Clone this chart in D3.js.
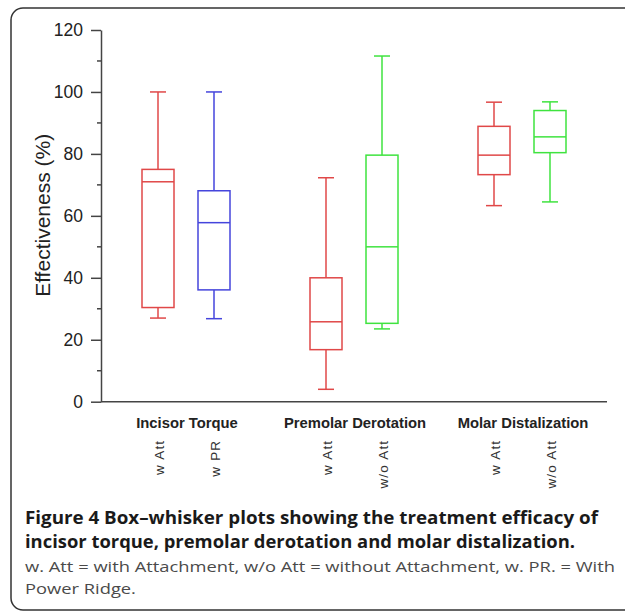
<!DOCTYPE html>
<html>
<head>
<meta charset="utf-8">
<title>Box-whisker plots</title>
<script type="text/javascript" src="https://cdn.jsdelivr.net/npm/d3@7"></script>
<style>
	body {
		margin: 0;
		background: white;
	}
	svg text.tick_label, svg .axis text {
		font-family: "Liberation Sans", Arial, sans-serif;
		font-size: 17.5px;
		fill: #222;
	}
	.axis path, .axis line {
		stroke: #444;
		stroke-width: 1.5px;
	}
	.cat_label {
		font-family: "Liberation Sans", Arial, sans-serif;
		font-weight: bold;
		font-size: 14.8px;
		fill: #222;
	}
	.sub_label {
		font-family: "Liberation Sans", Arial, sans-serif;
		font-size: 13.5px;
		letter-spacing: 1.2px;
		fill: #333;
	}
	.y_title {
		font-family: "Liberation Sans", Arial, sans-serif;
		font-size: 21px;
		fill: #222;
	}
	.caption {
		font-family: "Open Sans", "Noto Sans", sans-serif;
	}
	.box line, .box rect {
		stroke-width: 1.5px;
		fill: none;
	}
</style>
</head>
<body>

<svg id="chart"></svg>

<script type="text/javascript">

	// data
	var categories = [ "Incisor Torque", "Premolar Derotation", "Molar Distalization" ];
	var boxCat = [ "Incisor Torque", "Incisor Torque", "Premolar Derotation", "Premolar Derotation", "Molar Distalization", "Molar Distalization" ];
	var boxLabel = [ "w Att", "w PR", "w Att", "w/o Att", "w Att", "w/o Att" ];
	var boxSlot = [ 0, 1, 0, 1, 0, 1 ];
	var whiskerLow = [ 27.0, 26.8, 4.0, 23.5, 63.3, 64.5 ];
	var q1 = [ 30.4, 36.1, 16.8, 25.3, 73.3, 80.4 ];
	var median = [ 71.0, 57.8, 25.8, 50.0, 79.6, 85.5 ];
	var q3 = [ 75.0, 68.1, 40.0, 79.6, 88.9, 94.0 ];
	var whiskerHigh = [ 100, 100, 72.3, 111.6, 96.7, 96.8 ];
	var yTicks = [ 0, 20, 40, 60, 80, 100, 120 ];
	var yMinorTicks = [ 10, 30, 50, 70, 90, 110 ];

	var captionLines = [
		"Figure 4 Box\u2013whisker plots showing the treatment efficacy of",
		"incisor torque, premolar derotation and molar distalization.",
		"w. Att = with Attachment, w/o Att = without Attachment, w. PR. = With",
		"Power Ridge."
	];

	var width = 625,
		height = 613,
		boxWidth = 32,
		capWidth = 16;

	var boxes = boxCat.map( function( c, i ) {
		return {
			cat: c,
			label: boxLabel[i],
			slot: boxSlot[i],
			lo: whiskerLow[i],
			q1: q1[i],
			med: median[i],
			q3: q3[i],
			hi: whiskerHigh[i]
		} } );

	var color = d3.scaleOrdinal()
		.domain( [ "w Att", "w PR", "w/o Att" ] )
		.range( [ "#e04848", "#4545dc", "#3fe33f" ] );

	var svg = d3.select( "svg#chart" )
		.attr( "width", width )
		.attr( "height", height );

	// frame round the figure, runs off the right edge
	svg.append( "rect" )
		.attr( "x", 11 )
		.attr( "y", 8 )
		.attr( "width", 660 )
		.attr( "height", 602 )
		.attr( "rx", 12 )
		.attr( "fill", "none" )
		.attr( "stroke", "#333" )
		.attr( "stroke-width", 1.5 );

	var y = d3.scaleLinear()
		.domain( [ 0, 120 ] )
		.range( [ 401.7, 30 ] );

	var x = d3.scaleBand()
		.domain( categories )
		.range( [ 102, 606 ] );

	var xSub = d3.scalePoint()
		.domain( [ 0, 1 ] )
		.range( [ 0, x.bandwidth() ] )
		.padding( 1 );

	var cx = d => x( d.cat ) + xSub( d.slot );

	// y axis
	var yAxisG = svg.append( "g" )
		.attr( "class", "axis" )
		.attr( "transform", "translate(101,0)" )
		.call( d3.axisLeft( y ).tickValues( yTicks ).tickSize( 10 ).tickSizeOuter( 0 ).tickPadding( 8 ) );

	yAxisG.selectAll( "line.minor" )
		.data( yMinorTicks ).enter().append( "line" )
			.attr( "class", "minor" )
			.attr( "x1", -4 )
			.attr( "x2", 0 )
			.attr( "y1", d => y( d ) )
			.attr( "y2", d => y( d ) );

	// x axis line only
	svg.append( "g" )
		.attr( "class", "axis" )
		.attr( "transform", "translate(0," + y( 0 ) + ")" )
		.call( d3.axisBottom( x ).tickSize( 0 ).tickSizeOuter( 0 ).tickFormat( "" ) )
		.select( "path" )
			.attr( "d", "M101,0H607" );

	svg.append( "text" )
		.attr( "class", "y_title" )
		.attr( "transform", "translate(43," + ( y( 60 ) - 0.5 ) + ") rotate(-90)" )
		.attr( "text-anchor", "middle" )
		.attr( "dy", "0.35em" )
		.text( "Effectiveness (%)" );

	// boxes
	var boxG = svg.selectAll( "g.box" )
		.data( boxes ).enter().append( "g" )
			.attr( "class", "box" )
			.style( "stroke", d => color( d.label ) );

	boxG.append( "line" )
		.attr( "x1", cx ).attr( "x2", cx )
		.attr( "y1", d => y( d.hi ) ).attr( "y2", d => y( d.q3 ) );
	boxG.append( "line" )
		.attr( "x1", cx ).attr( "x2", cx )
		.attr( "y1", d => y( d.q1 ) ).attr( "y2", d => y( d.lo ) );
	boxG.append( "line" )
		.attr( "x1", d => cx( d ) - capWidth / 2 ).attr( "x2", d => cx( d ) + capWidth / 2 )
		.attr( "y1", d => y( d.hi ) ).attr( "y2", d => y( d.hi ) );
	boxG.append( "line" )
		.attr( "x1", d => cx( d ) - capWidth / 2 ).attr( "x2", d => cx( d ) + capWidth / 2 )
		.attr( "y1", d => y( d.lo ) ).attr( "y2", d => y( d.lo ) );
	boxG.append( "rect" )
		.attr( "x", d => cx( d ) - boxWidth / 2 )
		.attr( "width", boxWidth )
		.attr( "y", d => y( d.q3 ) )
		.attr( "height", d => y( d.q1 ) - y( d.q3 ) );
	boxG.append( "line" )
		.attr( "x1", d => cx( d ) - boxWidth / 2 ).attr( "x2", d => cx( d ) + boxWidth / 2 )
		.attr( "y1", d => y( d.med ) ).attr( "y2", d => y( d.med ) );

	// category labels
	svg.selectAll( "text.cat_label" )
		.data( categories ).enter().append( "text" )
			.attr( "class", "cat_label" )
			.attr( "x", d => x( d ) + x.bandwidth() / 2 + 1 )
			.attr( "y", y( 0 ) + 26 )
			.attr( "text-anchor", "middle" )
			.text( d => d );

	svg.selectAll( "text.sub_label" )
		.data( boxes ).enter().append( "text" )
			.attr( "class", "sub_label" )
			.attr( "transform", d => "translate(" + ( cx( d ) + 1 ) + "," + ( y( 0 ) + 38 ) + ") rotate(-90)" )
			.attr( "text-anchor", "end" )
			.attr( "dy", "0.35em" )
			.text( d => d.label );

	// caption
	var capY = [ 524, 547.5, 572, 594 ],
		capLen = [ 573, 550, 590, null ];

	svg.selectAll( "text.caption" )
		.data( captionLines ).enter().append( "text" )
			.attr( "class", "caption" )
			.attr( "x", 25 )
			.attr( "y", ( d, i ) => capY[i] )
			.style( "font-weight", ( d, i ) => i < 2 ? "bold" : "normal" )
			.style( "font-size", ( d, i ) => i < 2 ? "18.5px" : "15px" )
			.style( "fill", ( d, i ) => i < 2 ? "#1a1a1a" : "#4a4a4a" )
			.each( function( d, i ) {
				if( capLen[i] )
					d3.select( this ).attr( "textLength", capLen[i] ).attr( "lengthAdjust", "spacingAndGlyphs" );
			} )
			.text( d => d );

	// last caption line squeezed like the line above it
	var l3 = svg.selectAll( "text.caption" ).filter( ( d, i ) => i == 2 ).node();
	var l4 = svg.selectAll( "text.caption" ).filter( ( d, i ) => i == 3 );
	l3.removeAttribute( "textLength" );
	var ratio = 590 / l3.getComputedTextLength();
	l3.setAttribute( "textLength", 590 );
	l4.attr( "textLength", l4.node().getComputedTextLength() * ratio ).attr( "lengthAdjust", "spacingAndGlyphs" );

</script>
</body>
</html>
